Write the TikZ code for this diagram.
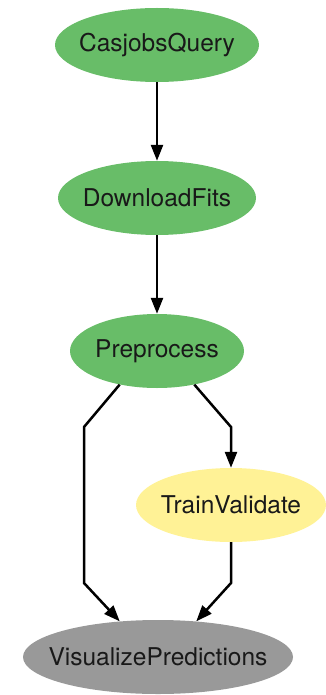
\documentclass[tikz,border=0pt]{standalone}
\usepackage{fontspec}
\setmainfont{TeX Gyre Heros}
\usetikzlibrary{shapes.geometric,arrows.meta}
\definecolor{nodegreen}{RGB}{104,189,104}
\definecolor{nodeyellow}{RGB}{255,242,150}
\definecolor{nodegray}{RGB}{153,153,153}
\tikzset{
  job/.style={ellipse, inner sep=0pt, minimum height=74pt, font=\fontsize{24.5}{28}\selectfont, text=black!90},
  edge/.style={line width=2.5pt, -{Triangle[length=16pt,width=12pt]}},
}
\begin{document}
\begin{tikzpicture}[x=1pt,y=-1pt]
\useasboundingbox (0,0) rectangle (326,695);
\node[job, fill=nodegreen, minimum width=204pt] (cq) at (157,45) {\makebox[0pt]{CasjobsQuery}};
\node[job, fill=nodegreen, minimum width=198pt] (df) at (157,198) {\makebox[0pt]{DownloadFits}};
\node[job, fill=nodegreen, minimum width=174pt] (pp) at (157,351) {\makebox[0pt]{Preprocess}};
\node[job, fill=nodeyellow, minimum width=190pt] (tv) at (231,505) {\makebox[0pt]{TrainValidate}};
\node[job, fill=nodegray, minimum width=270pt] (vp) at (158,657) {\makebox[0pt]{VisualizePredictions}};
\coordinate (b1) at (84,427);
\coordinate (b2) at (84,583);
\coordinate (b3) at (231,427);
\coordinate (b4) at (231,583);
\draw[edge] (cq.south) -- (df.north);
\draw[edge] (df.south) -- (pp.north);
\draw[edge] (pp.-42) -- (b3) -- (tv.north);
\draw[edge] (pp.-138) -- (b1) -- (b2) -- (vp.137);
\draw[edge] (tv.south) -- (b4) -- (vp.43);
\end{tikzpicture}
\end{document}
